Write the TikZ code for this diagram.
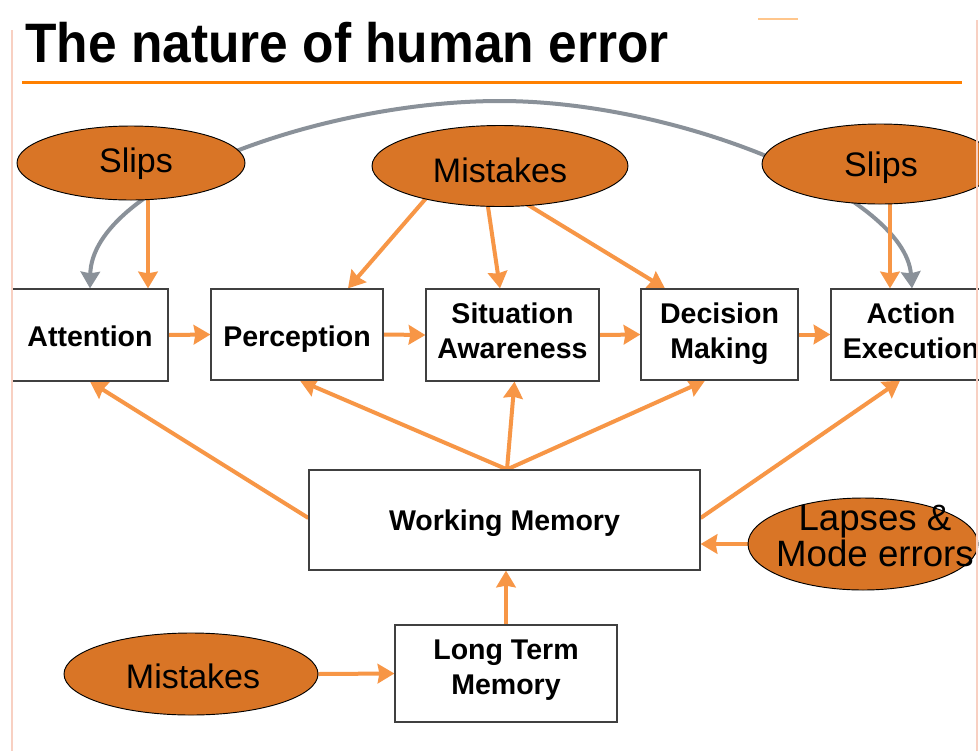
\documentclass[tikz,border=0pt]{standalone}
\usepackage{fontspec}
\setmainfont{Liberation Sans}
\usetikzlibrary{shapes.geometric,arrows.meta,calc,backgrounds}
\definecolor{arrorange}{RGB}{247,150,70}
\definecolor{ellfill}{RGB}{217,117,38}
\definecolor{titleline}{RGB}{255,128,0}
\definecolor{curvegray}{RGB}{138,145,153}
\definecolor{faintpink}{RGB}{248,208,194}
\begin{document}
\begin{tikzpicture}[x=0.75pt,y=-0.75pt,
  box/.style={draw=black!75, line width=0.9pt, fill=white, inner sep=0pt},
  boxtext/.style={inner sep=0pt, font=\bfseries\fontsize{21.4}{26}\selectfont, align=center},
  oval/.style={ellipse, draw=black, line width=0.7pt, fill=ellfill, inner sep=0pt},
  ovaltext/.style={inner sep=0pt, font=\fontsize{25.5}{27}\selectfont, align=center},
  oarr/.style={draw=arrorange, line width=3pt, -{Stealth[length=12.5pt,width=14.5pt,inset=1.2pt]}},
  garr/.style={draw=curvegray, line width=3pt,
    {Stealth[length=12.5pt,width=14.5pt,inset=1.2pt]}-{Stealth[length=12.5pt,width=14.5pt,inset=1.2pt]}},
]
\useasboundingbox (0,0) rectangle (979,751);
\clip (0,0) rectangle (979,751);

% title
\node[anchor=base west, inner sep=0pt, font=\bfseries\fontsize{38.6}{40}\selectfont] (title) at (25,62)
  {\scalebox{1}[1.08]{The nature of human error}};
\coordinate (tl1) at (22,82);
\coordinate (tl2) at (962,82);
\draw[titleline, line width=2.25pt] (tl1) -- (tl2);

% boxes
\node[box, minimum width=117pt, minimum height=69pt] (att) at (90,335) {};
\node[box, minimum width=129pt, minimum height=68.25pt] (per) at (297,334.5) {};
\node[box, minimum width=129.75pt, minimum height=69pt] (sa) at (512.5,335) {};
\node[box, minimum width=117.75pt, minimum height=68.25pt] (dm) at (719.5,334.5) {};
\node[box, minimum width=120pt, minimum height=68.25pt] (ae) at (911,334.5) {};
\node[box, minimum width=293.25pt, minimum height=75pt] (wm) at (504.5,520) {};
\node[box, minimum width=166.5pt, minimum height=72.75pt] (ltm) at (506,673.5) {};

\node[boxtext] (attL) at (90,336) {Attention};
\node[boxtext] (perL) at (297,339) {Perception};
\node[boxtext] (saL) at (512.5,331) {Situation\\Awareness};
\node[boxtext] (dmL) at (719.5,333.5) {Decision\\Making};
\node[boxtext] (aeL) at (911,331) {Action\\Execution};
\node[boxtext] (wmL) at (504.5,523) {Working Memory};
\node[boxtext] (ltmL) at (506,670) {Long Term\\Memory};

% ellipses
\node[oval, minimum width=171pt, minimum height=55.5pt] (sl1) at (131,163) {};
\node[oval, minimum width=192pt, minimum height=60.75pt] (mt1) at (500,166) {};
\node[oval, minimum width=177pt, minimum height=60pt] (sl2) at (880,164) {};
\node[oval, minimum width=172.5pt, minimum height=69pt] (lap) at (863,544) {};
\node[oval, minimum width=190.5pt, minimum height=61.5pt] (mt2) at (191,674) {};

\node[ovaltext] (sl1L) at (136,164) {Slips};
\node[ovaltext] (mt1L) at (500,170) {Mistakes};
\node[ovaltext] (sl2L) at (881,167.5) {Slips};
\node[ovaltext, font=\fontsize{27.5}{27.5}\selectfont] (lapL) at (875,536) {Lapses \&\\Mode errors};
\node[ovaltext] (mt2L) at (193,676.5) {Mistakes};

\coordinate (wmtop) at ($(wm.north)+(2.5,0)$);

\begin{pgfonlayer}{background}
\fill[white] (0,0) rectangle (979,751);
% gray curve
\draw[garr] (att.north) .. controls (92,185) and (320,101) .. (500,101)
  .. controls (680,101) and (905,195) .. ($(ae.north)+(1,0)$);
% slips and mistakes
\draw[oarr] ($(sl1.south)+(17,-3)$) -- ($(att.north)+(58,0)$);
\draw[oarr] ($(sl2.south)+(10,-3)$) -- ($(ae.north)+(-21,0)$);
\draw[oarr] ($(mt1.center)+(-72,30)$) -- ($(per.north)+(51,0)$);
\draw[oarr] ($(mt1.center)+(-13,34)$) -- ($(sa.north)+(-12.5,0)$);
\draw[oarr] ($(mt1.center)+(20,34)$) -- ($(dm.north)+(-54.5,0)$);
% chain
\draw[oarr] (att.east) -- (per.west);
\draw[oarr] (per.east) -- (sa.west);
\draw[oarr] (sa.east) -- (dm.west);
\draw[oarr] (dm.east) -- (ae.west);
% working memory
\draw[oarr] (wmtop) -- ($(per.south)+(3,0)$);
\draw[oarr] (wmtop) -- ($(sa.south)+(2,0)$);
\draw[oarr] (wmtop) -- ($(dm.south)+(-14.5,0)$);
\draw[oarr] ($(wm.west)+(0,-2)$) -- (att.south);
\draw[oarr] ($(wm.east)+(0,-2)$) -- ($(ae.south)+(-11,0)$);
\draw[oarr] (lap.west) -- (lap.west -| wm.east);
\draw[oarr] (ltm.north) -- (ltm.north |- wm.south);
\draw[oarr] (mt2.east) -- (ltm.west);
\end{pgfonlayer}

% slide decorations
\coordinate (pl1) at (12,30);
\coordinate (pl2) at (12,751);
\coordinate (pr1) at (977,20);
\coordinate (pr2) at (977,751);
\coordinate (om1) at (758,19);
\coordinate (om2) at (798,19);
\draw[faintpink, line width=1.5pt] (pl1) -- (pl2);
\draw[faintpink, line width=1.5pt] (pr1) -- (pr2);
\draw[titleline!45, line width=1pt] (om1) -- (om2);
\end{tikzpicture}
\end{document}
